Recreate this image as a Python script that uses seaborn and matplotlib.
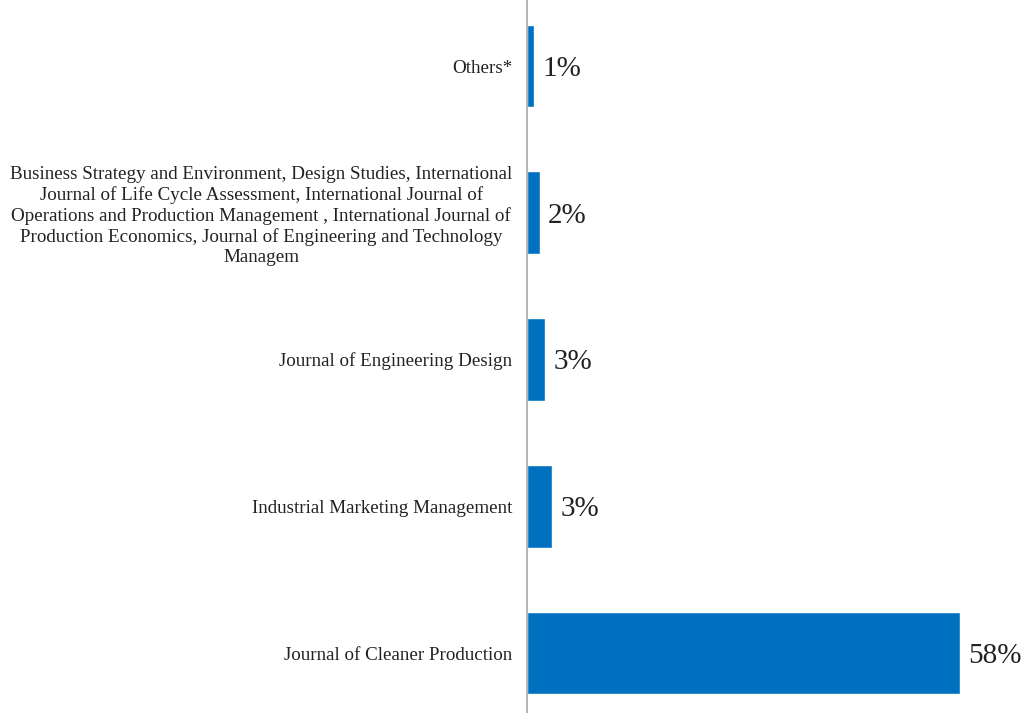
import matplotlib
matplotlib.use("Agg")
import matplotlib.pyplot as plt
import seaborn as sns
import pandas as pd

categories = [
    "Others*",
    "Business Strategy and Environment, Design Studies, International\n"
    "Journal of Life Cycle Assessment, International Journal of\n"
    "Operations and Production Management , International Journal of\n"
    "Production Economics, Journal of Engineering and Technology\n"
    "Managem",
    "Journal of Engineering Design",
    "Industrial Marketing Management",
    "Journal of Cleaner Production",
]
values = [0.9, 1.7, 2.4, 3.4, 58.0]
value_labels = ["1%", "2%", "3%", "3%", "58%"]

sns.set_style("white")
plt.rcParams["font.family"] = ["Liberation Serif", "DejaVu Serif"]

df = pd.DataFrame({"journal": categories, "share": values})

W, H = 1027, 713
fig = plt.figure(figsize=(W / 100, H / 100), dpi=100)
px = 7.466  # pixels per unit
xmax = 66
left_px = 527
top_c, bot_c = 66, 653
step = (bot_c - top_c) / 4
y_top = top_c - step / 2
y_bot = bot_c + step / 2
ax = fig.add_axes([left_px / W, (H - y_bot) / H, xmax * px / W, (y_bot - y_top) / H])

sns.barplot(data=df, x="share", y="journal", orient="h", color="#0070C0",
            saturation=1, width=0.565, ax=ax)
ax.set_xlim(0, xmax)
ax.set_ylim(4.5, -0.5)
ax.set_xlabel("")
ax.set_ylabel("")
ax.set_xticks([])
for s in ["top", "right", "bottom"]:
    ax.spines[s].set_visible(False)
ax.spines["left"].set_color("#A6A6A6")
ax.spines["left"].set_linewidth(1.2)
ax.tick_params(axis="y", length=0, pad=10.5)
for t in ax.get_yticklabels():
    t.set_fontsize(13.7)
    t.set_multialignment("center")
    t.set_color("#222222")
    t.set_linespacing(1.22)

for i, p in enumerate(ax.patches):
    ax.annotate(value_labels[i], (p.get_width(), p.get_y() + p.get_height() / 2),
                xytext=(6, -2), textcoords="offset points", va="center", ha="left",
                fontsize=21, color="#222222")

fig.savefig("out.png", dpi=100)
